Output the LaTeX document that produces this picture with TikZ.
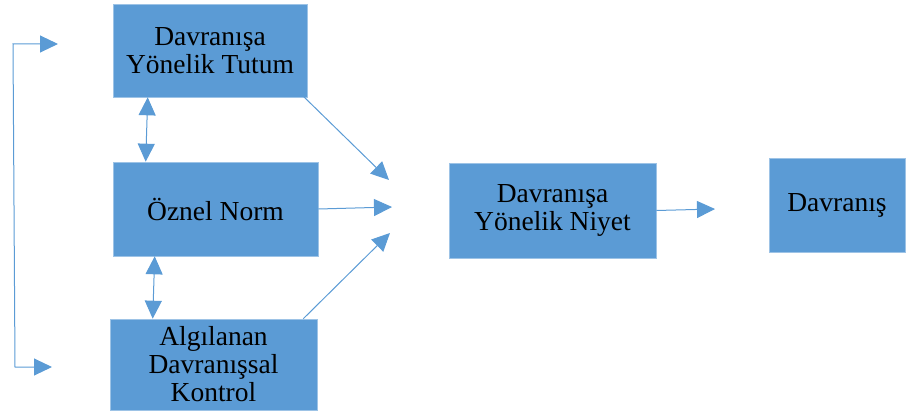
\documentclass[tikz,border=0pt]{standalone}
\usepackage{fontspec}
\setmainfont{Liberation Serif}
\usetikzlibrary{arrows.meta,calc}
\definecolor{boxblue}{HTML}{5B9BD5}
\begin{document}
\begin{tikzpicture}[x=1pt,y=-1pt,
  block/.style={rectangle, fill=boxblue, draw=boxblue!60!white, line width=0.6pt,
    align=center, inner sep=0pt, font=\fontsize{27.5}{28}\selectfont},
  tip/.tip={Triangle[length=18pt,width=17pt]},
  link/.style={draw=boxblue, line width=1pt, -tip},
  both/.style={draw=boxblue, line width=1pt, tip-tip}]
\useasboundingbox (0,0) rectangle (907,414);

% model constructs
\node[block, minimum width=194pt, minimum height=93pt] (tutum) at (210,50.5) {Davranışa\\Yönelik Tutum};
\node[block, minimum width=205pt, minimum height=94pt] (norm) at (215.5,209) {Öznel Norm};
\node[block, minimum width=207pt, minimum height=91pt] (kontrol) at (213.5,364.5) {Algılanan\\Davranışsal\\Kontrol};
\node[block, minimum width=207pt, minimum height=95pt] (niyet) at (552.5,210.5) {Davranışa\\Yönelik Niyet};
\node[block, minimum width=136pt, minimum height=94pt] (davranis) at (837,205) {Davranış};

% free arrow ends
\coordinate (inA) at (389,180);
\coordinate (inB) at (392,207);
\coordinate (inC) at (390,233);
\coordinate (outD) at (715,209);
\coordinate (fbTop) at (58,44);
\coordinate (fbCornerTop) at (13,44);
\coordinate (fbCornerBot) at (15,367);
\coordinate (fbBot) at (52,367);

% influences towards intention
\draw[link] ([xshift=-5pt,yshift=2pt]tutum.south east) -- (inA);
\draw[link] (norm.east) -- (inB);
\draw[link] ([xshift=-14pt]kontrol.north east) -- (inC);
\draw[link] (niyet.east) -- (outD);

% correlations between constructs
\draw[both] ($(tutum.south west)+(35,0)$) -- ($(norm.north west)+(33,0)$);
\draw[both] ($(norm.south west)+(42,0)$) -- ($(kontrol.north west)+(43,0)$);

% feedback bracket on the left
\draw[both] (fbTop) -- (fbCornerTop) -- (fbCornerBot) -- (fbBot);
\end{tikzpicture}
\end{document}
